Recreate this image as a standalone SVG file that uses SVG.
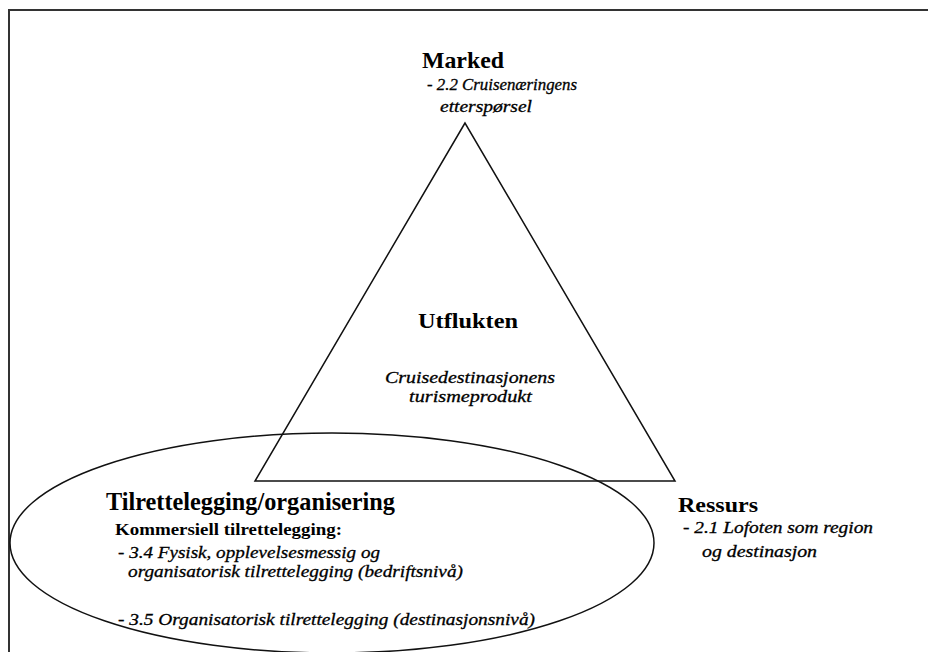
<svg xmlns="http://www.w3.org/2000/svg" width="928" height="652" viewBox="0 0 928 652">
<style>
.t{font-family:"Liberation Serif",serif;fill:#000}
.b{font-weight:bold}
.i{font-style:italic;stroke:#000;stroke-width:0.3}
.shape{fill:none;stroke:#111;stroke-width:1.5}
</style>
<rect x="0" y="0" width="928" height="652" fill="#fff"/>
<g id="frame"><polyline points="9,652 9,10 928,10" fill="none" stroke="#333" stroke-width="2"/></g>
<g id="connectors">
<polygon id="triangle" class="shape" points="465,123 255,481 675,481"/>
<ellipse id="ellipse" class="shape" cx="332" cy="543" rx="322" ry="110"/>
</g>
<g id="marked">
<text class="t b" x="422" y="68" font-size="23" textLength="82" lengthAdjust="spacingAndGlyphs">Marked</text>
<text class="t i" x="427" y="90" font-size="16" textLength="150" lengthAdjust="spacingAndGlyphs">- 2.2 Cruisenæringens</text>
<text class="t i" x="440" y="112" font-size="16" textLength="92" lengthAdjust="spacingAndGlyphs">etterspørsel</text>
</g>
<g id="utflukten">
<text class="t b" x="418" y="328" font-size="22" textLength="100" lengthAdjust="spacingAndGlyphs">Utflukten</text>
<text class="t i" x="385" y="383" font-size="17" textLength="170" lengthAdjust="spacingAndGlyphs">Cruisedestinasjonens</text>
<text class="t i" x="409" y="402" font-size="17" textLength="123" lengthAdjust="spacingAndGlyphs">turismeprodukt</text>
</g>
<g id="tilrettelegging">
<text class="t b" x="106" y="510" font-size="25" textLength="289" lengthAdjust="spacingAndGlyphs">Tilrettelegging/organisering</text>
<text class="t b" x="115" y="535" font-size="17" textLength="227" lengthAdjust="spacingAndGlyphs">Kommersiell tilrettelegging:</text>
<text class="t i" x="118" y="558" font-size="17" textLength="262" lengthAdjust="spacingAndGlyphs">- 3.4 Fysisk, opplevelsesmessig og</text>
<text class="t i" x="128" y="577" font-size="17" textLength="335" lengthAdjust="spacingAndGlyphs">organisatorisk tilrettelegging (bedriftsnivå)</text>
<text class="t i" x="118" y="625" font-size="17" textLength="417" lengthAdjust="spacingAndGlyphs">- 3.5 Organisatorisk tilrettelegging (destinasjonsnivå)</text>
</g>
<g id="ressurs">
<text class="t b" x="678" y="512" font-size="22" textLength="80" lengthAdjust="spacingAndGlyphs">Ressurs</text>
<text class="t i" x="683" y="533" font-size="16" textLength="190" lengthAdjust="spacingAndGlyphs">- 2.1 Lofoten som region</text>
<text class="t i" x="702" y="557" font-size="16" textLength="115" lengthAdjust="spacingAndGlyphs">og destinasjon</text>
</g>
</svg>
